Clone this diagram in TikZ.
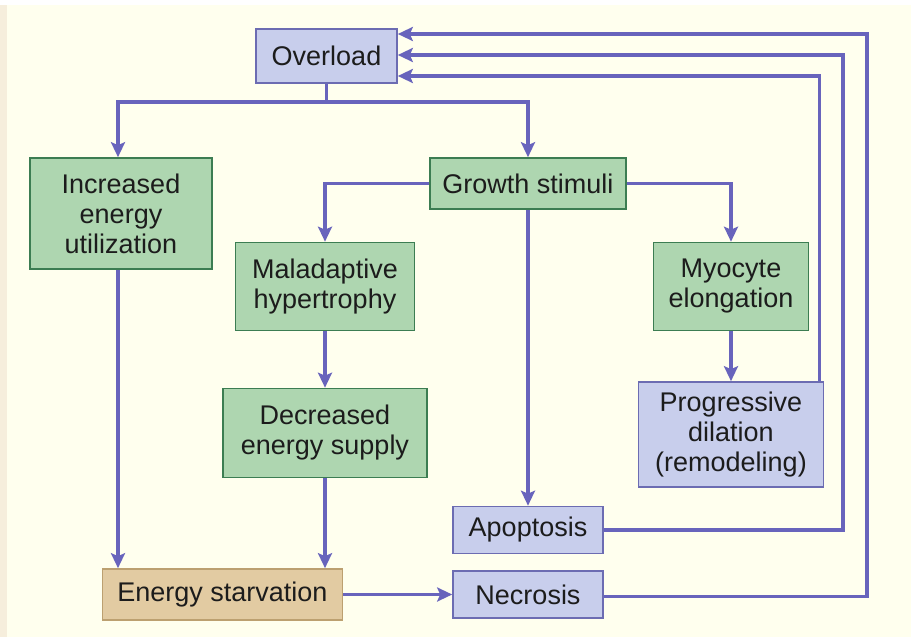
\documentclass[tikz,border=0pt]{standalone}
\usepackage{fontspec}
\setmainfont{Liberation Sans}
\usetikzlibrary{arrows.meta}
\definecolor{cream}{RGB}{255,255,238}
\definecolor{edgetan}{RGB}{246,238,220}
\definecolor{gfill}{RGB}{174,214,176}
\definecolor{gline}{RGB}{60,125,82}
\definecolor{bfill}{RGB}{200,206,236}
\definecolor{bline}{RGB}{108,108,178}
\definecolor{tfill}{RGB}{226,203,162}
\definecolor{tline}{RGB}{188,160,112}
\definecolor{arrc}{RGB}{104,100,188}
\definecolor{txt}{RGB}{28,28,28}
\tikzset{
  box/.style={draw, line width=1.6pt, inner sep=0pt, align=center, text=txt,
    font=\fontsize{27}{30}\selectfont},
  gbox/.style={box, fill=gfill, draw=gline},
  bbox/.style={box, fill=bfill, draw=bline},
  tbox/.style={box, fill=tfill, draw=tline},
  arr/.style={draw=arrc, line width=3.2pt, -{Stealth[length=15pt,width=14pt,inset=3pt]}},
}
\begin{document}
\begin{tikzpicture}[x=1pt,y=-1pt]
\useasboundingbox (0,0) rectangle (911,642);
\fill[white] (0,0) rectangle (911,642);
\fill[edgetan] (0,5) rectangle (7,637);
\fill[cream] (7,5) rectangle (911,637);

\node[bbox, minimum width=141pt, minimum height=54pt] (over) at (326.5,56) {Overload};
\node[gbox, minimum width=182pt, minimum height=111pt] (incr) at (121,213.5) {Increased\\energy\\utilization};
\node[gbox, minimum width=196pt, minimum height=51pt] (grow) at (528,183.5) {Growth stimuli};
\node[gbox, minimum width=179pt, minimum height=88pt] (mal) at (325,286.5) {Maladaptive\\hypertrophy};
\node[gbox, minimum width=155pt, minimum height=88pt] (myo) at (731,286.5) {Myocyte\\elongation};
\node[gbox, minimum width=204pt, minimum height=89pt] (dec) at (325,433) {Decreased\\energy supply};
\node[bbox, minimum width=185pt, minimum height=105pt] (prog) at (731,434.5) {Progressive\\dilation\\(remodeling)};
\node[bbox, minimum width=150pt, minimum height=47pt] (apo) at (528,530) {Apoptosis};
\node[tbox, minimum width=240pt, minimum height=51pt] (starv) at (222.5,594.5) {Energy starvation};
\node[bbox, minimum width=150pt, minimum height=47pt] (nec) at (528,594.5) {Necrosis};

\coordinate (split) at (326.5,102);
\coordinate (apoR) at (843,530);
\coordinate (necR) at (867,596.5);

\draw[arr] (over.south) -- (split) -| ([xshift=-3pt]incr.north);
\draw[arr] (split) -| (grow.north);
\draw[arr] (grow.west) -| (mal.north);
\draw[arr] (grow.east) -| (myo.north);
\draw[arr] (grow.south) -- (apo.north);
\draw[arr] (mal.south) -- (dec.north);
\draw[arr] (myo.south) -- (prog.north);
\draw[arr] (dec.south) -- (dec.south |- starv.north);
\draw[arr] ([xshift=-3pt]incr.south) -- ([xshift=-3pt]incr.south |- starv.north);
\draw[arr] (starv.east) -- (nec.west);
\draw[arr] ([xshift=-5pt]prog.north east) |- ([yshift=-20pt]over.east);
\draw[arr] (apo.east) -- (apoR) |- ([yshift=1pt]over.east);
\draw[arr] ([yshift=-2pt]nec.east) -- (necR) |- ([yshift=22pt]over.east);
\end{tikzpicture}
\end{document}
